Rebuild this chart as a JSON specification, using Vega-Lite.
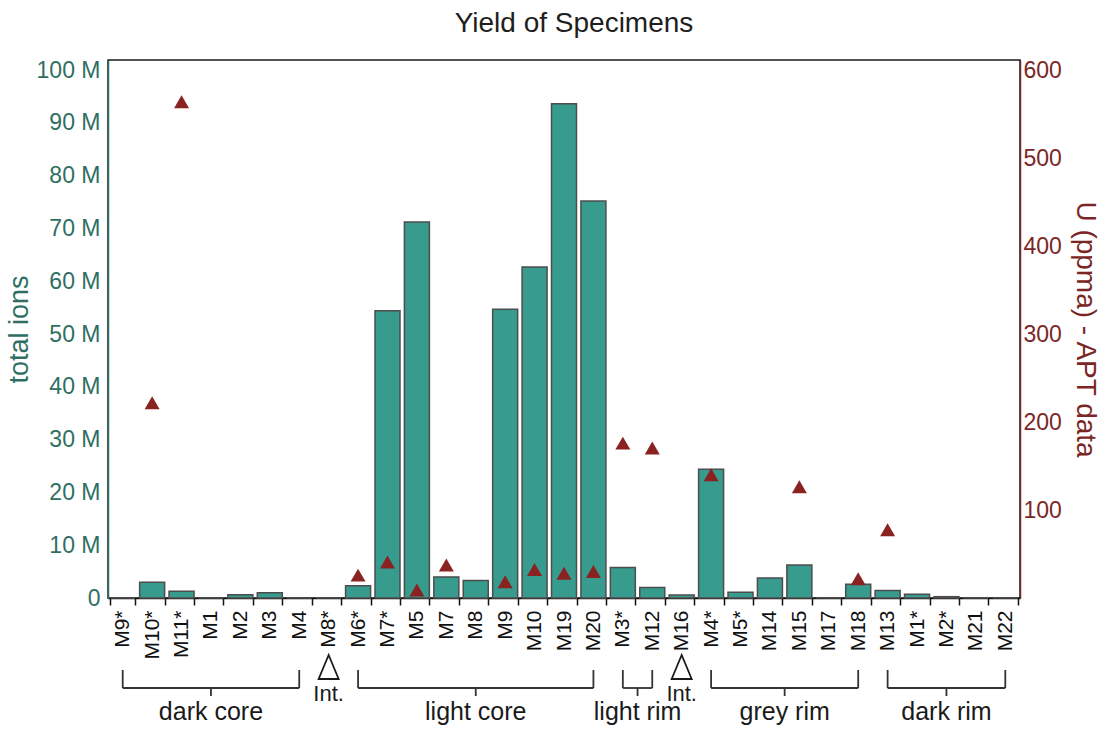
{
  "$schema": "https://vega.github.io/schema/vega-lite/v6.json",
  "padding": {"left": 4, "top": 9, "right": 8, "bottom": 0},
  "bounds": "flush",
  "spacing": 0,
  "config": {
    "font": "Liberation Sans",
    "view": {"stroke": null}
  },
  "datasets": {
    "specimens": [
      {"sample": "M9*", "ions": 0, "U": null},
      {"sample": "M10*", "ions": 3000000, "U": 222},
      {"sample": "M11*", "ions": 1300000, "U": 564},
      {"sample": "M1", "ions": 0, "U": null},
      {"sample": "M2", "ions": 600000, "U": null},
      {"sample": "M3", "ions": 1000000, "U": null},
      {"sample": "M4", "ions": 0, "U": null},
      {"sample": "M8*", "ions": 0, "U": null},
      {"sample": "M6*", "ions": 2300000, "U": 26},
      {"sample": "M7*", "ions": 54400000, "U": 41},
      {"sample": "M5", "ions": 71200000, "U": 9},
      {"sample": "M7", "ions": 4000000, "U": 37.5},
      {"sample": "M8", "ions": 3300000, "U": null},
      {"sample": "M9", "ions": 54700000, "U": 18.5},
      {"sample": "M10", "ions": 62700000, "U": 32.5},
      {"sample": "M19", "ions": 93600000, "U": 28},
      {"sample": "M20", "ions": 75200000, "U": 30},
      {"sample": "M3*", "ions": 5800000, "U": 176},
      {"sample": "M12", "ions": 2000000, "U": 170.5},
      {"sample": "M16", "ions": 550000, "U": null},
      {"sample": "M4*", "ions": 24400000, "U": 140},
      {"sample": "M5*", "ions": 1100000, "U": null},
      {"sample": "M14", "ions": 3800000, "U": null},
      {"sample": "M15", "ions": 6250000, "U": 126.5},
      {"sample": "M17", "ions": 0, "U": null},
      {"sample": "M18", "ions": 2600000, "U": 22},
      {"sample": "M13", "ions": 1400000, "U": 77.5},
      {"sample": "M1*", "ions": 700000, "U": null},
      {"sample": "M2*", "ions": 250000, "U": null},
      {"sample": "M21", "ions": 0, "U": null},
      {"sample": "M22", "ions": 0, "U": null}
    ],
    "groups": [
      {"group": "dark core", "first": "M9*", "last": "M4", "mid": "M1", "midOnBoundary": false},
      {"group": "light core", "first": "M6*", "last": "M20", "mid": "M8", "midOnBoundary": false},
      {"group": "light rim", "first": "M3*", "last": "M12", "mid": "M3*", "midOnBoundary": true},
      {"group": "grey rim", "first": "M4*", "last": "M18", "mid": "M14", "midOnBoundary": true},
      {"group": "dark rim", "first": "M13", "last": "M22", "mid": "M2*", "midOnBoundary": false}
    ],
    "intermediates": [
      {"sample": "M8*", "note": "Int."},
      {"sample": "M16", "note": "Int."}
    ]
  },
  "vconcat": [
    {
      "title": {
        "text": "Yield of Specimens",
        "fontSize": 28,
        "fontWeight": "normal",
        "color": "#1e1e1e",
        "frame": "group",
        "anchor": "middle",
        "offset": 21,
        "dx": 10
      },
      "width": 912,
      "height": 538,
      "view": {"stroke": "#1a1a1a", "strokeWidth": 1.5},
      "data": {"name": "specimens"},
      "encoding": {
        "x": {
          "field": "sample",
          "type": "nominal",
          "sort": null,
          "scale": {
            "domain": ["M9*", "M10*", "M11*", "M1", "M2", "M3", "M4", "M8*", "M6*", "M7*", "M5", "M7", "M8", "M9", "M10", "M19", "M20", "M3*", "M12", "M16", "M4*", "M5*", "M14", "M15", "M17", "M18", "M13", "M1*", "M2*", "M21", "M22"],
            "paddingInner": 0.15,
            "paddingOuter": 0.075
          },
          "axis": {
            "title": null,
            "labelAngle": 270,
            "labelFontSize": 21,
            "labelColor": "#111111",
            "labelPadding": 5,
            "tickBand": "extent",
            "tickSize": 7,
            "tickWidth": 1.5,
            "tickColor": "#111111",
            "domainColor": "#111111",
            "domainWidth": 1.5,
            "grid": false
          }
        }
      },
      "layer": [
        {
          "mark": {"type": "bar", "fill": "#379B8D", "stroke": "#4d4d4d", "strokeWidth": 1.5},
          "encoding": {
            "y": {
              "field": "ions",
              "type": "quantitative",
              "scale": {"domain": [0, 101900000], "nice": false},
              "axis": {
                "orient": "left",
                "values": [0, 10000000, 20000000, 30000000, 40000000, 50000000, 60000000, 70000000, 80000000, 90000000, 100000000],
                "labelExpr": "datum.value == 0 ? '0' : format(datum.value / 1000000, 'd') + ' M'",
                "title": "total ions",
                "titleFontSize": 27,
                "titleFontWeight": "normal",
                "titleColor": "#2F6F63",
                "titlePadding": 3,
                "labelColor": "#2F6F63",
                "labelFontSize": 23,
                "labelPadding": 8,
                "labelFlush": false,
                "ticks": false,
                "grid": false,
                "domainColor": "#2F6F63",
                "domainWidth": 1.5
              }
            }
          }
        },
        {
          "mark": {"type": "point", "shape": "triangle-up", "filled": true, "size": 225, "color": "#8B2222", "opacity": 1},
          "encoding": {
            "y": {
              "field": "U",
              "type": "quantitative",
              "scale": {"domain": [0, 611.4], "nice": false},
              "axis": {
                "orient": "right",
                "values": [100, 200, 300, 400, 500, 600],
                "title": "U (ppma) - APT data",
                "titleFontSize": 28,
                "titleFontWeight": "normal",
                "titleColor": "#7B2626",
                "titlePadding": 9,
                "labelColor": "#7B2626",
                "labelFontSize": 23,
                "labelPadding": 3,
                "labelFlush": false,
                "ticks": false,
                "grid": false,
                "domainColor": "#7B2626",
                "domainWidth": 1.5
              }
            }
          }
        }
      ],
      "resolve": {"scale": {"y": "independent"}}
    },
    {
      "width": 912,
      "height": 131,
      "view": {"stroke": null},
      "layer": [
        {
          "data": {"name": "groups"},
          "mark": {"type": "rule", "color": "#333333", "strokeWidth": 1.8},
          "encoding": {
            "x": {"field": "first", "type": "nominal", "sort": null, "axis": null,
              "scale": {"domain": ["M9*", "M10*", "M11*", "M1", "M2", "M3", "M4", "M8*", "M6*", "M7*", "M5", "M7", "M8", "M9", "M10", "M19", "M20", "M3*", "M12", "M16", "M4*", "M5*", "M14", "M15", "M17", "M18", "M13", "M1*", "M2*", "M21", "M22"], "paddingInner": 0, "paddingOuter": 0}},
            "x2": {"field": "last"},
            "y": {"datum": 9.0, "type": "quantitative", "axis": null, "scale": {"domain": [0, 13.1], "reverse": true, "nice": false, "zero": false}}
          }
        },
        {
          "data": {"name": "groups"},
          "mark": {"type": "rule", "color": "#333333", "strokeWidth": 1.8},
          "encoding": {
            "x": {"field": "first", "type": "nominal", "sort": null, "axis": null},
            "y": {"datum": 7.2, "type": "quantitative", "axis": null},
            "y2": {"datum": 9.0}
          }
        },
        {
          "data": {"name": "groups"},
          "mark": {"type": "rule", "color": "#333333", "strokeWidth": 1.8},
          "encoding": {
            "x": {"field": "last", "type": "nominal", "sort": null, "axis": null},
            "y": {"datum": 7.2, "type": "quantitative", "axis": null},
            "y2": {"datum": 9.0}
          }
        },
        {
          "data": {"name": "groups"},
          "transform": [{"filter": "!datum.midOnBoundary"}],
          "mark": {"type": "rule", "color": "#333333", "strokeWidth": 1.8},
          "encoding": {
            "x": {"field": "mid", "type": "nominal", "sort": null, "axis": null},
            "y": {"datum": 9.0, "type": "quantitative", "axis": null},
            "y2": {"datum": 9.8}
          }
        },
        {
          "data": {"name": "groups"},
          "transform": [{"filter": "datum.midOnBoundary"}],
          "mark": {"type": "rule", "color": "#333333", "strokeWidth": 1.8},
          "encoding": {
            "x": {"field": "mid", "type": "nominal", "sort": null, "axis": null, "bandPosition": 1},
            "y": {"datum": 9.0, "type": "quantitative", "axis": null},
            "y2": {"datum": 9.8}
          }
        },
        {
          "data": {"name": "groups"},
          "transform": [{"filter": "!datum.midOnBoundary"}],
          "mark": {"type": "text", "fontSize": 25, "color": "#1a1a1a", "baseline": "middle", "align": "center"},
          "encoding": {
            "x": {"field": "mid", "type": "nominal", "sort": null, "axis": null},
            "y": {"datum": 11.4, "type": "quantitative", "axis": null},
            "text": {"field": "group"}
          }
        },
        {
          "data": {"name": "groups"},
          "transform": [{"filter": "datum.midOnBoundary"}],
          "mark": {"type": "text", "fontSize": 25, "color": "#1a1a1a", "baseline": "middle", "align": "center"},
          "encoding": {
            "x": {"field": "mid", "type": "nominal", "sort": null, "axis": null, "bandPosition": 1},
            "y": {"datum": 11.4, "type": "quantitative", "axis": null},
            "text": {"field": "group"}
          }
        },
        {
          "data": {"name": "intermediates"},
          "mark": {"type": "point", "shape": "M0,-1.2L-1,1.2L1,1.2Z", "size": 400, "filled": false, "stroke": "#1a1a1a", "strokeWidth": 1.8, "opacity": 1},
          "encoding": {
            "x": {"field": "sample", "type": "nominal", "sort": null, "axis": null},
            "y": {"datum": 6.9, "type": "quantitative", "axis": null}
          }
        },
        {
          "data": {"name": "intermediates"},
          "mark": {"type": "text", "fontSize": 22, "color": "#1a1a1a", "baseline": "middle", "align": "center"},
          "encoding": {
            "x": {"field": "sample", "type": "nominal", "sort": null, "axis": null},
            "y": {"datum": 9.6, "type": "quantitative", "axis": null},
            "text": {"field": "note"}
          }
        }
      ]
    }
  ],
  "resolve": {"scale": {"x": "independent"}}
}
